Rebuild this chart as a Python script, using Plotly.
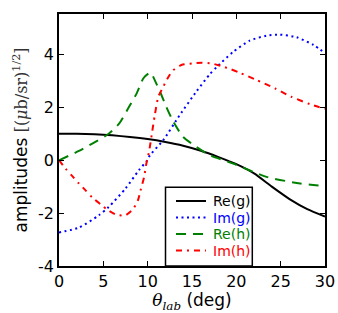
import plotly.graph_objects as go

# Re(g)
reg_x = [0, 2, 4, 6, 8, 10, 12, 14, 16, 18, 20, 22, 24, 26, 28, 30]
reg_y = [1.0, 1.0, 0.98, 0.94, 0.88, 0.8, 0.69, 0.55, 0.36, 0.12, -0.15, -0.5, -1.0, -1.47, -1.85, -2.13]

# Im(g)
img_x = [0, 2.25, 4.5, 5.6, 7.5, 9.0, 9.96, 10.26, 11.76, 13.6, 15.5, 17.0, 17.8, 19.65, 21.5, 23.4, 24.9, 26.8, 28.7, 30]
img_y = [-2.73, -2.55, -2.08, -1.77, -1.07, -0.38, 0.0, 0.19, 0.76, 1.7, 2.6, 3.25, 3.53, 4.1, 4.52, 4.71, 4.75, 4.65, 4.36, 4.05]

# Re(h)
reh_x = [0, 2.25, 3.75, 5.6, 6.8, 7.9, 8.76, 9.5, 10.1, 10.4, 10.63, 11.4, 12.1, 12.9, 14.0, 15.5, 17.0, 19.65, 23.4, 27.2, 30]
reh_y = [0.0, 0.35, 0.63, 1.0, 1.39, 2.02, 2.53, 3.09, 3.28, 3.3, 3.15, 2.59, 2.02, 1.45, 0.88, 0.5, 0.19, -0.13, -0.63, -0.88, -0.98]

# Im(h)
imh_x = [0, 0.75, 1.5, 2.25, 3.0, 3.75, 4.7, 5.45, 6.46, 7.5, 8.3, 8.9, 9.2, 9.6, 9.85, 10.15, 10.45, 10.8, 11.2, 11.76, 12.3, 12.9, 13.8, 15.0, 16.1, 17.2, 18.3, 19.3, 20.3, 22.3, 24.35, 26.2, 28.3, 29.4, 30]
imh_y = [0.0, -0.32, -0.6, -0.88, -1.14, -1.41, -1.67, -1.87, -2.06, -2.08, -1.87, -1.52, -1.14, -0.63, -0.13, 0.31, 0.95, 1.7, 2.4, 2.78, 3.13, 3.41, 3.6, 3.66, 3.69, 3.66, 3.56, 3.45, 3.32, 3.03, 2.72, 2.4, 2.12, 2.0, 1.95]

y_ticks = [-4, -2, 0, 2, 4]
y_ticklabels = ["-4", "-2", "0", "2", "4"]
x_ticks = [0, 5, 10, 15, 20, 25, 30]

series_names = ["Re(g)", "Im(g)", "Re(h)", "Im(h)"]
series_colors = ["#000000", "#0000ff", "#008000", "#ff0000"]
series_dashes = ["solid", "2px,3.5px", "10px,7px", "6px,5px,2px,5px"]
series_x = [reg_x, img_x, reh_x, imh_x]
series_y = [reg_y, img_y, reh_y, imh_y]

fig = go.Figure()
for name, xs, ys, col, dash in zip(series_names, series_x, series_y, series_colors, series_dashes):
    fig.add_trace(go.Scatter(
        x=xs, y=ys, mode="lines", name=name, showlegend=False,
        line=dict(color=col, width=2, dash=dash, shape="spline", smoothing=0.6),
    ))

# legend box drawn on top of the lines (pixel layout converted to paper coords)
L, R, T, B = 59, 325, 14, 266
def px(X):
    return (X - L) / (R - L)
def py(Y):
    return (B - Y) / (B - T)

fig.add_shape(type="rect", xref="paper", yref="paper",
              x0=px(165.5), x1=px(252.3), y0=0, y1=py(187.3),
              fillcolor="white", line=dict(color="black", width=1.5), layer="above")
row_y = [201, 217.5, 234, 250.5]
for name, col, dash, ry in zip(series_names, series_colors, series_dashes, row_y):
    fig.add_shape(type="line", xref="paper", yref="paper",
                  x0=px(176), x1=px(206), y0=py(ry), y1=py(ry),
                  line=dict(color=col, width=2, dash=dash), layer="above")
    fig.add_annotation(xref="paper", yref="paper", x=px(211), y=py(ry),
                       xanchor="left", yanchor="middle", showarrow=False,
                       text=name, font=dict(family="DejaVu Sans", size=14, color=col))

axis_common = dict(
    showline=True, linecolor="black", linewidth=1.5, mirror="allticks",
    ticks="inside", ticklen=5, tickcolor="black", tickwidth=1,
    showgrid=False, zeroline=False, automargin=False,
    tickfont=dict(family="DejaVu Sans", size=16, color="black"),
)

fig.update_layout(
    width=338, height=313,
    margin=dict(l=L, r=338 - R, t=T, b=313 - B, autoexpand=False),
    paper_bgcolor="white", plot_bgcolor="white",
    showlegend=False,
    xaxis=dict(
        range=[0, 30], tickvals=x_ticks,
        title=dict(
            text="<span style='font-family:DejaVu Serif'><i>θ</i><sub><i>lab</i></sub></span> (deg)",
            font=dict(family="DejaVu Sans", size=17, color="black"), standoff=2,
        ),
        **axis_common,
    ),
    yaxis=dict(
        range=[-4, 5.53], tickvals=y_ticks, ticktext=y_ticklabels,
        title=dict(
            text="amplitudes <span style='font-family:DejaVu Serif;font-size:16px;color:#333'>[(<i>μ</i>b/sr)<sup>1/2</sup>]</span>",
            font=dict(family="DejaVu Sans", size=17, color="black"), standoff=6,
        ),
        **axis_common,
    ),
)

fig.write_html("out.html", config={"displayModeBar": False},
               post_script="document.body.style.margin='0';document.body.style.overflow='hidden';")
